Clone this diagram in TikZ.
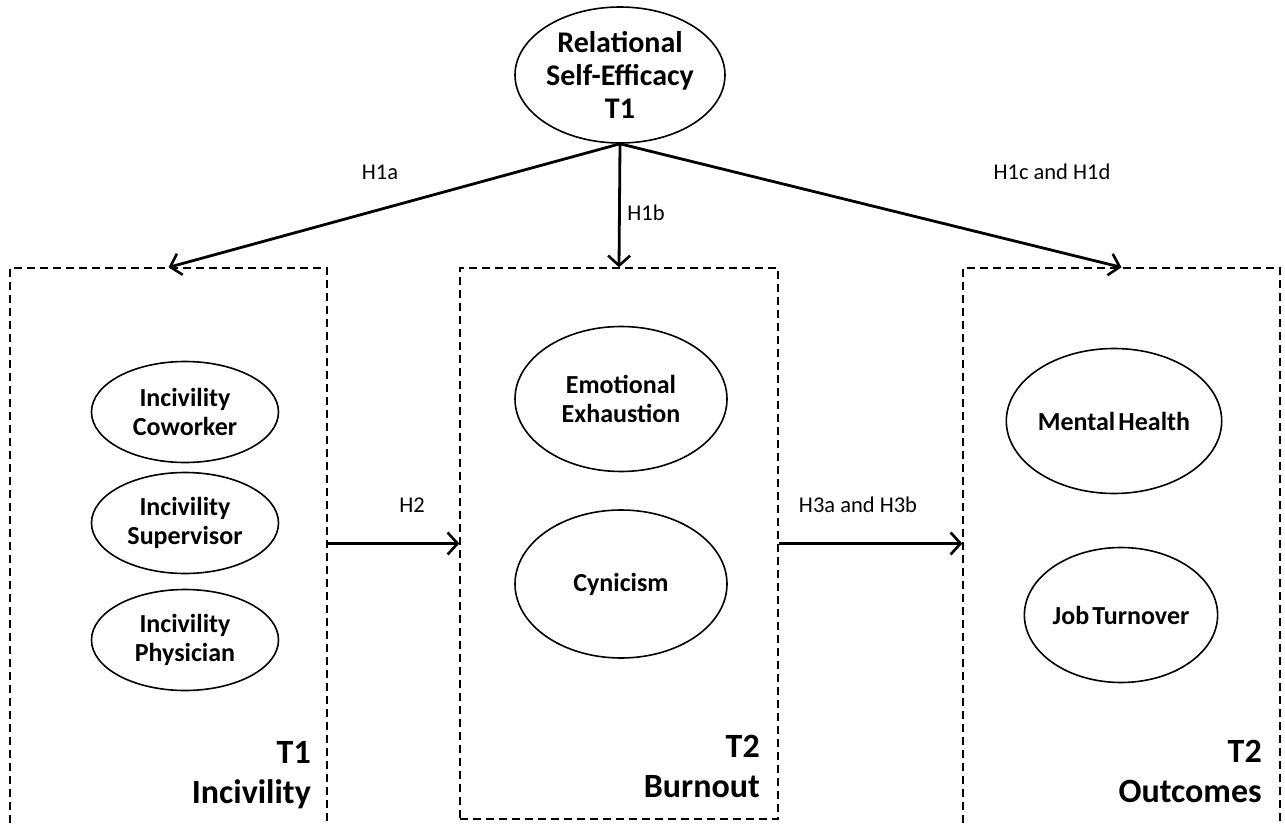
\documentclass[tikz,border=0pt]{standalone}
\usepackage{fontspec}
\setmainfont{Carlito}
\usetikzlibrary{arrows.meta,shapes.geometric}

\begin{document}
\begin{tikzpicture}
    [
        x=1pt, y=-1pt,
        latent/.style={ellipse, draw, line width=1.6pt, align=center, inner sep=0pt,
            font=\bfseries\fontsize{26}{29}\selectfont},
        group/.style={draw, dash pattern=on 8pt off 5pt, line width=1.3pt, inner sep=0pt},
        effect/.style={-{Straight Barb[length=10pt,width=22pt,line width=2.6pt]}, line width=2.8pt},
        hyp/.style={font=\fontsize{22.5}{26}\selectfont, inner sep=0pt},
        grouptitle/.style={align=right, anchor=south east, inner sep=0pt,
            font=\bfseries\fontsize{34}{40}\selectfont}
    ]
    \clip (0,0) rectangle (1285,826);

    % moderator
    \node [latent, minimum width=210pt, minimum height=136pt,
        font=\bfseries\fontsize{30}{33}\selectfont] (rse) at (620,75)
        {Relational\\Self-Efficacy\\T1};

    % groups
    \node [group, minimum width=317pt, minimum height=600pt] (inc) at (168.5,568) {};
    \node [group, minimum width=318pt, minimum height=551pt] (burn) at (619,543.5) {};
    \node [group, minimum width=317pt, minimum height=600pt] (out) at (1121.5,568) {};

    % T1 incivility
    \node [latent, minimum width=187pt, minimum height=101pt] (cow) at (185,412) {Incivility\\Coworker};
    \node [latent, minimum width=187pt, minimum height=101pt] (sup) at (185,523) {Incivility\\Supervisor};
    \node [latent, minimum width=187pt, minimum height=101pt] (phy) at (185,640) {Incivility\\Physician};
    \node [grouptitle] (inctitle) at (311,809) {T1\\Incivility};

    % T2 burnout
    \node [latent, minimum width=212pt, minimum height=145pt] (exh) at (621,399) {Emotional\\Exhaustion};
    \node [latent, minimum width=212pt, minimum height=148pt] (cyn) at (621,584) {Cynicism};
    \node [grouptitle] (burntitle) at (760,798) {T2\\Burnout};

    % T2 outcomes
    \node [latent, minimum width=214pt, minimum height=145pt] (mh) at (1114,421) {Mental\hspace{0.12em}Health};
    \node [latent, minimum width=187pt, minimum height=135pt] (jt) at (1121,615) {Job\hspace{0.12em}Turnover};
    \node [grouptitle] (outtitle) at (1262,803) {T2\\Outcomes};

    % hypotheses
    \draw [effect] (rse.south) -- (inc.north);
    \draw [effect] (rse.south) -- (burn.north);
    \draw [effect] (rse.south) -- (out.north);
    \draw [effect] (inc.east |- burn.center) -- (burn.west);
    \draw [effect] (burn.east) -- (out.west |- burn.center);

    \node [hyp] (h1a) at (380,172) {H1a};
    \node [hyp] (h1b) at (646,213) {H1b};
    \node [hyp] (h1cd) at (1052,172) {H1c and H1d};
    \node [hyp] (h2) at (412,505) {H2};
    \node [hyp] (h3ab) at (858,505) {H3a and H3b};
\end{tikzpicture}
\end{document}
